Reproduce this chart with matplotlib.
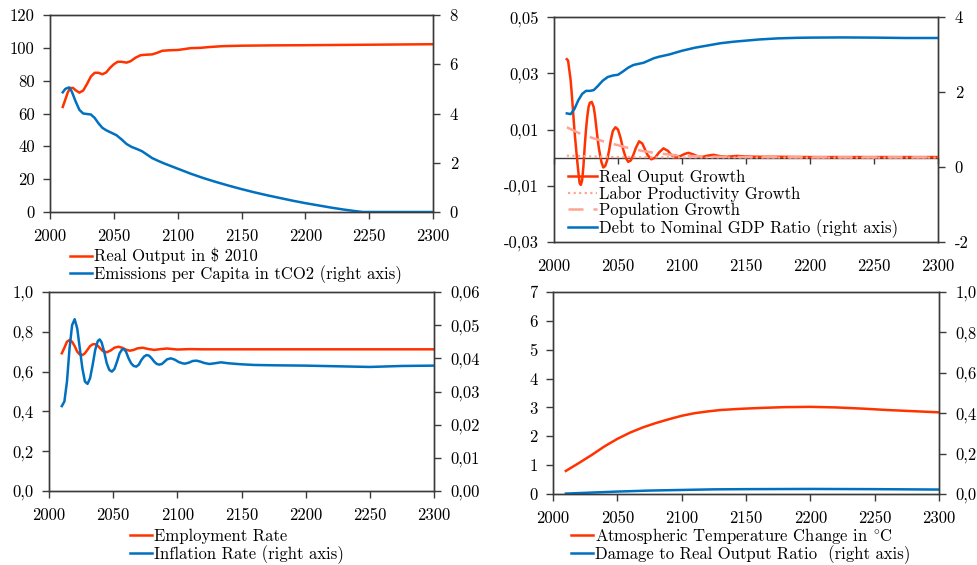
import matplotlib
matplotlib.use("Agg")
import matplotlib.pyplot as plt
from matplotlib.ticker import FuncFormatter

plt.rcParams['font.family'] = ['cmr10', 'DejaVu Serif']
plt.rcParams['mathtext.fontset'] = 'cm'
plt.rcParams['font.size'] = 12
plt.rcParams['axes.unicode_minus'] = False

RED = '#FF3300'
BLUE = '#0070C0'
PINK = '#FFA494'
AXC = '#3A3A3A'

x_ticks = [2000, 2050, 2100, 2150, 2200, 2250, 2300]

# ---- panel 1: real output / emissions per capita
out_years = [2010, 2012, 2014, 2016, 2018, 2020, 2023, 2026, 2029, 2032, 2035, 2038,
             2041, 2044, 2047, 2050, 2053, 2056, 2060, 2063, 2067, 2071, 2075, 2080,
             2084, 2088, 2093, 2100, 2105, 2110, 2118, 2125, 2135, 2150, 2175, 2200,
             2250, 2300]
real_output = [64.0, 68.5, 73.0, 75.5, 75.6, 74.2, 72.7, 74.0, 78.0, 82.5, 84.8, 84.8,
               83.9, 85.0, 87.8, 90.0, 91.5, 91.5, 91.0, 91.8, 94.0, 95.5, 95.8, 96.0,
               97.0, 98.2, 98.5, 98.7, 99.2, 99.8, 100.0, 100.5, 101.0, 101.3, 101.5,
               101.6, 101.9, 102.2]
em_years = [2010, 2012, 2015, 2017, 2020, 2023, 2026, 2029, 2032, 2035, 2038, 2041,
            2044, 2048, 2052, 2056, 2060, 2064, 2068, 2072, 2076, 2080, 2085, 2090,
            2095, 2100, 2110, 2120, 2130, 2140, 2150, 2160, 2170, 2180, 2190, 2200,
            2210, 2220, 2230, 2240, 2245, 2270, 2300]
emissions = [4.86, 5.00, 5.06, 4.90, 4.50, 4.15, 4.00, 3.98, 3.96, 3.82, 3.60, 3.42,
             3.32, 3.22, 3.12, 2.95, 2.76, 2.64, 2.56, 2.47, 2.33, 2.19, 2.07, 1.96,
             1.86, 1.76, 1.56, 1.38, 1.22, 1.07, 0.93, 0.80, 0.68, 0.57, 0.46, 0.36,
             0.27, 0.18, 0.10, 0.03, 0.0, 0.0, 0.0]
p1_left_ticks = [0, 20, 40, 60, 80, 100, 120]
p1_right_ticks = [0, 2, 4, 6, 8]

# ---- panel 2: growth rates / debt ratio
gr_years = [2010, 2011, 2012, 2013, 2014, 2015, 2016, 2017, 2018, 2019, 2020, 2021,
            2022, 2023, 2024, 2025, 2026, 2027, 2028, 2029.5, 2031, 2032, 2033, 2034,
            2035, 2036, 2037, 2038.5, 2040, 2041.5, 2043, 2044.5, 2046, 2048, 2050,
            2052, 2054, 2056, 2058, 2060, 2062, 2064, 2066.5, 2069, 2071, 2073, 2076,
            2079, 2082, 2085.5, 2089, 2092, 2095.5, 2099, 2102, 2105, 2109, 2112,
            2115.5, 2120, 2124.5, 2130, 2135, 2143, 2150, 2160, 2175, 2200, 2250, 2300]
output_growth = [0.0350, 0.0345, 0.0310, 0.0276, 0.0220, 0.0158, 0.0095, 0.0045,
                 -0.0005, -0.0050, -0.0090, -0.0097, -0.0080, -0.0030, 0.0040, 0.0100,
                 0.0146, 0.0180, 0.0195, 0.0198, 0.0180, 0.0150, 0.0110, 0.0070,
                 0.0035, 0.0010, -0.0015, -0.0035, -0.0030, -0.0010, 0.0025, 0.0065,
                 0.0095, 0.0108, 0.0100, 0.0070, 0.0030, 0.0000, -0.0015, -0.0010,
                 0.0010, 0.0035, 0.0058, 0.0050, 0.0030, 0.0010, -0.0006, 0.0000,
                 0.0018, 0.0033, 0.0024, 0.0008, 0.0000, 0.0006, 0.0013, 0.0017,
                 0.0011, 0.0005, 0.0002, 0.0007, 0.0010, 0.0005, 0.0003, 0.0006,
                 0.0004, 0.0003, 0.0003, 0.0002, 0.0002, 0.0002]
lp_years = [2010, 2020, 2030, 2050, 2100, 2200, 2300]
labor_prod_growth = [0.0007, 0.0006, 0.0004, 0.0002, 0.0001, 0.0, 0.0]
pop_years = [2010, 2020, 2030, 2040, 2050, 2060, 2070, 2080, 2090, 2100, 2125, 2150,
             2200, 2300]
pop_growth = [0.0108, 0.0086, 0.0070, 0.0056, 0.0044, 0.0032, 0.0023, 0.0016, 0.0011,
              0.0007, 0.0003, 0.0002, 0.0001, 0.0001]
debt_years = [2010, 2013, 2016, 2019, 2022, 2025, 2028, 2031, 2034, 2038, 2042, 2046,
              2050, 2054, 2058, 2062, 2066, 2070, 2074, 2078, 2082, 2086, 2090, 2095,
              2100, 2105, 2110, 2120, 2130, 2140, 2150, 2160, 2175, 2190, 2200, 2225,
              2250, 2275, 2300]
debt_ratio = [1.43, 1.41, 1.55, 1.78, 1.95, 2.03, 2.03, 2.05, 2.15, 2.30, 2.40, 2.44,
              2.46, 2.55, 2.65, 2.72, 2.75, 2.78, 2.84, 2.90, 2.94, 2.97, 3.00, 3.05,
              3.10, 3.14, 3.18, 3.24, 3.30, 3.34, 3.37, 3.40, 3.43, 3.445, 3.45, 3.455,
              3.45, 3.44, 3.44]
p2_left_ticks = [-0.03, -0.01, 0.01, 0.03, 0.05]
p2_right_ticks = [-2, 0, 2, 4]

# ---- panel 3: employment / inflation
emp_years = [2010, 2012, 2014, 2016, 2018, 2020, 2022, 2024, 2026, 2028, 2030, 2032,
             2034, 2036, 2038, 2040, 2042, 2045, 2048, 2051, 2054, 2057, 2060, 2063,
             2066, 2069, 2073, 2077, 2082, 2087, 2092, 2100, 2110, 2120, 2150, 2200,
             2250, 2300]
employment = [0.692, 0.720, 0.750, 0.759, 0.750, 0.728, 0.700, 0.686, 0.683, 0.692,
              0.710, 0.728, 0.737, 0.738, 0.730, 0.716, 0.703, 0.697, 0.706, 0.720,
              0.725, 0.720, 0.710, 0.705, 0.709, 0.717, 0.720, 0.714, 0.709, 0.713,
              0.716, 0.711, 0.713, 0.712, 0.712, 0.712, 0.712, 0.712]
inf_years = [2010, 2012, 2014, 2016, 2018, 2020, 2022, 2024, 2026, 2028, 2030, 2032,
             2034, 2036, 2038, 2039.5, 2041, 2043, 2045, 2047, 2049, 2051, 2053, 2055,
             2057, 2058.5, 2060, 2062, 2064, 2066, 2068, 2070, 2072, 2074, 2076, 2078,
             2080, 2082, 2084, 2086, 2088, 2090, 2092, 2095, 2098, 2101, 2104, 2106,
             2109, 2112, 2115, 2118, 2121, 2125, 2129, 2134, 2140, 2150, 2160, 2175,
             2200, 2225, 2250, 2275, 2300]
inflation = [0.0256, 0.0270, 0.0330, 0.0430, 0.0500, 0.0518, 0.0490, 0.0430, 0.0370,
             0.0330, 0.0323, 0.0340, 0.0380, 0.0425, 0.0452, 0.0457, 0.0448, 0.0420,
             0.0385, 0.0365, 0.0360, 0.0368, 0.0390, 0.0415, 0.0427, 0.0428, 0.0420,
             0.0400, 0.0385, 0.0377, 0.0375, 0.0381, 0.0395, 0.0405, 0.0410, 0.0408,
             0.0400, 0.0390, 0.0383, 0.0381, 0.0383, 0.0390, 0.0397, 0.0400, 0.0396,
             0.0389, 0.0385, 0.0384, 0.0387, 0.0392, 0.0393, 0.0390, 0.0386, 0.0383,
             0.0385, 0.0388, 0.0385, 0.0382, 0.0380, 0.0379, 0.0378, 0.0376, 0.0374,
             0.0377, 0.0378]
p3_left_ticks = [0.0, 0.2, 0.4, 0.6, 0.8, 1.0]
p3_right_ticks = [0.0, 0.01, 0.02, 0.03, 0.04, 0.05, 0.06]

# ---- panel 4: temperature / damage
temp_years = [2010, 2020, 2030, 2040, 2050, 2060, 2070, 2080, 2090, 2100, 2110, 2120,
              2130, 2145, 2160, 2180, 2200, 2220, 2240, 2260, 2280, 2300]
temperature = [0.80, 1.07, 1.35, 1.65, 1.91, 2.13, 2.31, 2.46, 2.59, 2.71, 2.80, 2.86,
               2.91, 2.95, 2.98, 3.01, 3.02, 3.00, 2.96, 2.91, 2.87, 2.83]
dmg_years = [2010, 2030, 2050, 2075, 2100, 2125, 2150, 2200, 2250, 2300]
damage = [0.002, 0.007, 0.012, 0.017, 0.020, 0.023, 0.024, 0.025, 0.024, 0.022]
p4_left_ticks = [0, 1, 2, 3, 4, 5, 6, 7]
p4_right_ticks = [0.0, 0.2, 0.4, 0.6, 0.8, 1.0]

W, H = 978, 565
fig = plt.figure(figsize=(W / 100, H / 100), dpi=100)


def rect(l, r, t, b):
    return [l / W, 1 - b / H, (r - l) / W, (b - t) / H]


def comma(dec):
    return FuncFormatter(lambda v, p: ('%.*f' % (dec, v)).replace('.', ','))


def style(ax, tw, lticks, rticks, ldec, rdec, ylim, ylim2):
    ax.set_xlim(2000, 2300)
    ax.set_xticks(x_ticks)
    ax.set_ylim(*ylim)
    ax.set_yticks(lticks)
    ax.yaxis.set_major_formatter(comma(ldec))
    tw.set_ylim(*ylim2)
    tw.set_yticks(rticks)
    tw.yaxis.set_major_formatter(comma(rdec))
    for a in (ax, tw):
        for s in a.spines.values():
            s.set_color(AXC)
            s.set_linewidth(1.0)
        a.tick_params(direction='out', length=5, width=1, color=AXC, labelsize=12)
    ax.tick_params(axis='y', pad=6)
    ax.tick_params(axis='x', pad=7)
    tw.tick_params(axis='y', pad=7)


def leg(ax, handles, x, y, hl=1.35, sp=0.05):
    ax.legend(handles=handles, loc='upper left', bbox_to_anchor=(x / W, 1 - y / H),
              bbox_transform=fig.transFigure, frameon=False, borderpad=0,
              borderaxespad=0, handlelength=hl, handletextpad=0.1, labelspacing=sp,
              fontsize=12)


# panel 1
ax1 = fig.add_axes(rect(50, 433, 15, 212))
tw1 = ax1.twinx()
l1, = ax1.plot(out_years, real_output, color=RED, lw=1.8, label='Real Output in $ 2010')
l2, = tw1.plot(em_years, emissions, color=BLUE, lw=1.8,
               label='Emissions per Capita in tCO2 (right axis)')
style(ax1, tw1, p1_left_ticks, p1_right_ticks, 0, 0, (0, 120), (0, 8))
leg(tw1, [l1, l2], 70, 248)

# panel 2
ax2 = fig.add_axes(rect(554, 938, 17, 242))
tw2 = ax2.twinx()
ax2.axhline(0, color=AXC, lw=1.0, zorder=1)
g1, = ax2.plot(gr_years, output_growth, color=RED, lw=1.8, label='Real Ouput Growth', zorder=3)
g2, = ax2.plot(lp_years, labor_prod_growth, color=PINK, lw=1.6, ls=(0, (1, 1.5)),
               label='Labor Productivity Growth', zorder=4)
g3, = ax2.plot(pop_years, pop_growth, color=PINK, lw=1.8, ls=(0, (6, 4)),
               label='Population Growth', zorder=4)
g4, = tw2.plot(debt_years, debt_ratio, color=BLUE, lw=1.8,
               label='Debt to Nominal GDP Ratio (right axis)')
style(ax2, tw2, p2_left_ticks, p2_right_ticks, 2, 0, (-0.03, 0.05), (-2, 4))
ax2.tick_params(axis='x', length=0, pad=12)
zx = ax2.secondary_xaxis(0.375)
zx.set_xticks(x_ticks)
zx.tick_params(axis='x', direction='out', length=4, width=1, color=AXC, labelbottom=False)
zx.spines['bottom'].set_visible(False)
leg(tw2, [g1, g2, g3, g4], 568, 170, hl=1.75)

# panel 3
ax3 = fig.add_axes(rect(49, 434, 292, 491))
tw3 = ax3.twinx()
e1, = ax3.plot(emp_years, employment, color=RED, lw=1.8, label='Employment Rate')
e2, = tw3.plot(inf_years, inflation, color=BLUE, lw=1.8, label='Inflation Rate (right axis)')
style(ax3, tw3, p3_left_ticks, p3_right_ticks, 1, 2, (0, 1.0), (0, 0.06))
leg(tw3, [e1, e2], 130, 529)

# panel 4
ax4 = fig.add_axes(rect(553, 939, 292, 494))
tw4 = ax4.twinx()
t1, = ax4.plot(temp_years, temperature, color=RED, lw=1.8,
               label=r'Atmospheric Temperature Change in $^{\circ}$C')
t2, = tw4.plot(dmg_years, damage, color=BLUE, lw=1.8,
               label='Damage to Real Output Ratio  (right axis)')
style(ax4, tw4, p4_left_ticks, p4_right_ticks, 0, 1, (0, 7), (0, 1.0))
leg(tw4, [t1, t2], 571, 526, sp=-0.04)

fig.savefig('out.png', dpi=100)
